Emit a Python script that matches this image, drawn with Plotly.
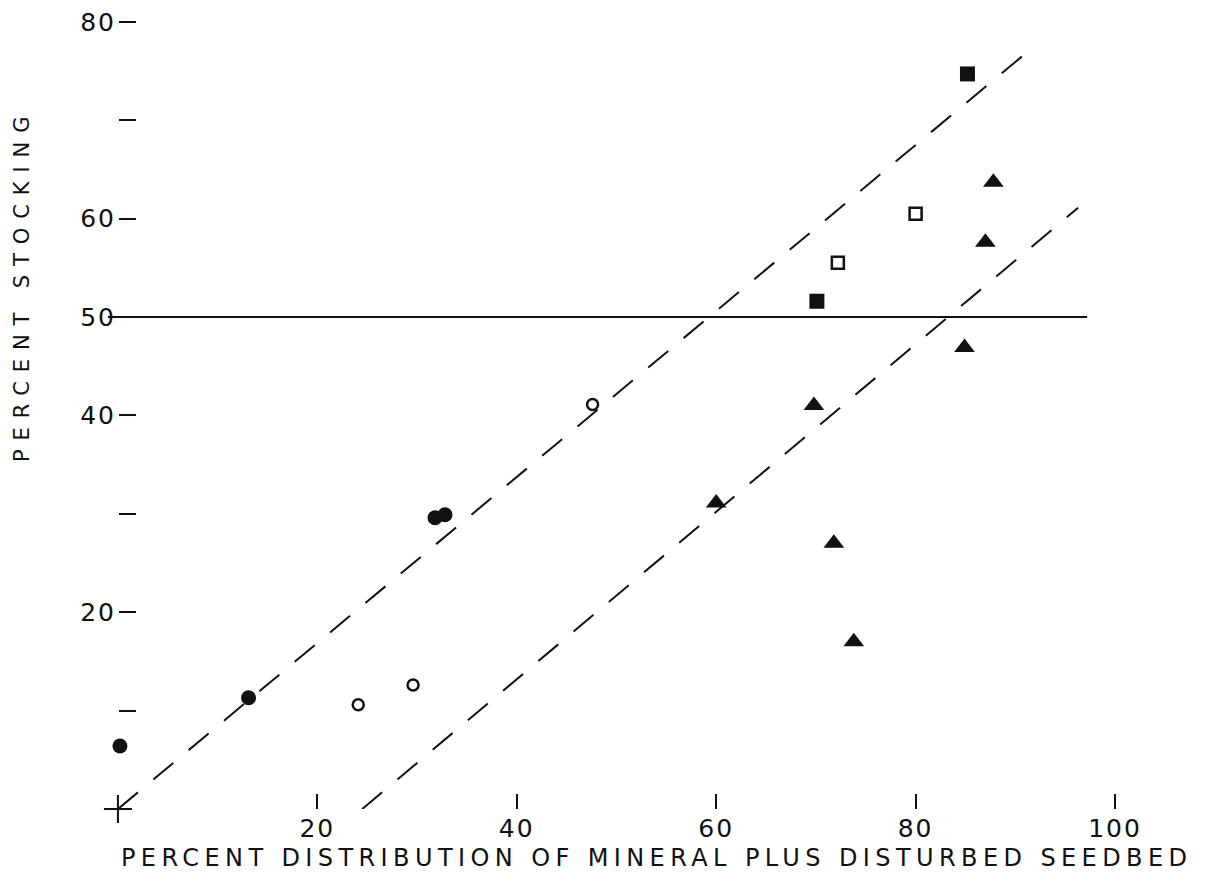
import plotly.graph_objects as go

# --- data ---
filled_circle_x = [0.2, 13.1, 31.8, 32.8]
filled_circle_y = [6.4, 11.3, 29.6, 29.9]

open_circle_x = [24.1, 29.6, 47.6]
open_circle_y = [10.6, 12.6, 41.1]

open_square_x = [72.2, 80.0]
open_square_y = [55.5, 60.5]

filled_square_x = [70.1, 85.2]
filled_square_y = [51.6, 74.7]

triangle_x = [87.8, 87.0, 84.9, 69.8, 60.0, 71.8, 73.8]
triangle_y = [63.7, 57.6, 46.9, 41.0, 31.1, 27.0, 17.0]

upper_line_x = [0.0, 92.0]
upper_line_y = [0.0, 77.6]
lower_line_x = [24.5, 96.3]
lower_line_y = [0.0, 61.1]
ref_line_x = [-1.0, 97.2]
ref_line_y = [50.0, 50.0]

origin_x = [0]
origin_y = [0]

x_tickvals = [20, 40, 60, 80, 100]
x_ticktext = ["20", "40", "60", "80", "100"]
y_tickvals = [10, 20, 30, 40, 50, 60, 70, 80]
y_ticktext = ["", "20", "", "40", "50", "60", "", "80"]

x_title = "PERCENT DISTRIBUTION OF MINERAL PLUS DISTURBED SEEDBED"
y_title = "PERCENT STOCKING"

FONT = "DejaVu Sans"
INK = "#111111"


def spaced(t, px):
    return f'<span style="letter-spacing:{px}px">{t}</span>' if t else ""


fig = go.Figure()

dash = "26px,20px"
fig.add_trace(go.Scatter(x=upper_line_x, y=upper_line_y, mode="lines",
                         line=dict(color=INK, width=2, dash=dash), showlegend=False))
fig.add_trace(go.Scatter(x=lower_line_x, y=lower_line_y, mode="lines",
                         line=dict(color=INK, width=2, dash=dash), showlegend=False))
fig.add_trace(go.Scatter(x=ref_line_x, y=ref_line_y, mode="lines",
                         line=dict(color=INK, width=2), showlegend=False))

fig.add_trace(go.Scatter(x=filled_circle_x, y=filled_circle_y, mode="markers",
                         marker=dict(symbol="circle", size=15, color=INK),
                         cliponaxis=False, showlegend=False))
fig.add_trace(go.Scatter(x=open_circle_x, y=open_circle_y, mode="markers",
                         marker=dict(symbol="circle-open", size=11, color=INK,
                                     line=dict(color=INK, width=2.5)),
                         showlegend=False))
fig.add_trace(go.Scatter(x=open_square_x, y=open_square_y, mode="markers",
                         marker=dict(symbol="square-open", size=12, color=INK,
                                     line=dict(color=INK, width=2.5)),
                         showlegend=False))
fig.add_trace(go.Scatter(x=filled_square_x, y=filled_square_y, mode="markers",
                         marker=dict(symbol="square", size=15, color=INK),
                         showlegend=False))
fig.add_trace(go.Scatter(x=triangle_x, y=triangle_y, mode="markers",
                         marker=dict(symbol="triangle-up", size=18, color=INK),
                         showlegend=False))
fig.add_trace(go.Scatter(x=origin_x, y=origin_y, mode="markers",
                         marker=dict(symbol="cross-thin", size=20, color=INK,
                                     line=dict(color=INK, width=2)),
                         cliponaxis=False, showlegend=False))

fig.update_layout(
    width=1206, height=888,
    margin=dict(l=90, r=89, t=0, b=87),
    paper_bgcolor="white", plot_bgcolor="white",
    font=dict(family=FONT, color=INK),
    xaxis=dict(range=[-2, 101], showgrid=False, zeroline=False, showline=False,
               ticks="inside", ticklen=15, tickwidth=2, tickcolor=INK,
               tickvals=x_tickvals, ticktext=[spaced(t, 2) for t in x_ticktext],
               tickfont=dict(family=FONT, size=25, color=INK),
               ticklabelstandoff=2, ticklabeloverflow="allow"),
    yaxis=dict(range=[0, 81.4], showgrid=False, zeroline=False, showline=False,
               anchor="free", position=2 / 103,
               ticks="inside", ticklen=17, tickwidth=2, tickcolor=INK,
               tickvals=y_tickvals, ticktext=[spaced(t, 2) for t in y_ticktext],
               tickfont=dict(family=FONT, size=25, color=INK),
               ticklabelstandoff=2, ticklabeloverflow="allow"),
    annotations=[
        dict(text=spaced(x_title, 5.4), xref="paper", yref="paper",
             x=(648 - 90) / 1027, y=(801 - 850) / 801,
             xanchor="center", yanchor="middle",
             showarrow=False, font=dict(family=FONT, size=24, color=INK)),
        dict(text=spaced(y_title, 8.9), xref="paper", yref="paper",
             x=(14.5 - 90) / 1027, y=(801 - 277.5) / 801,
             xanchor="center", yanchor="middle",
             textangle=-90, showarrow=False,
             font=dict(family=FONT, size=21, color=INK)),
    ],
)

fig.write_html("out.html")
